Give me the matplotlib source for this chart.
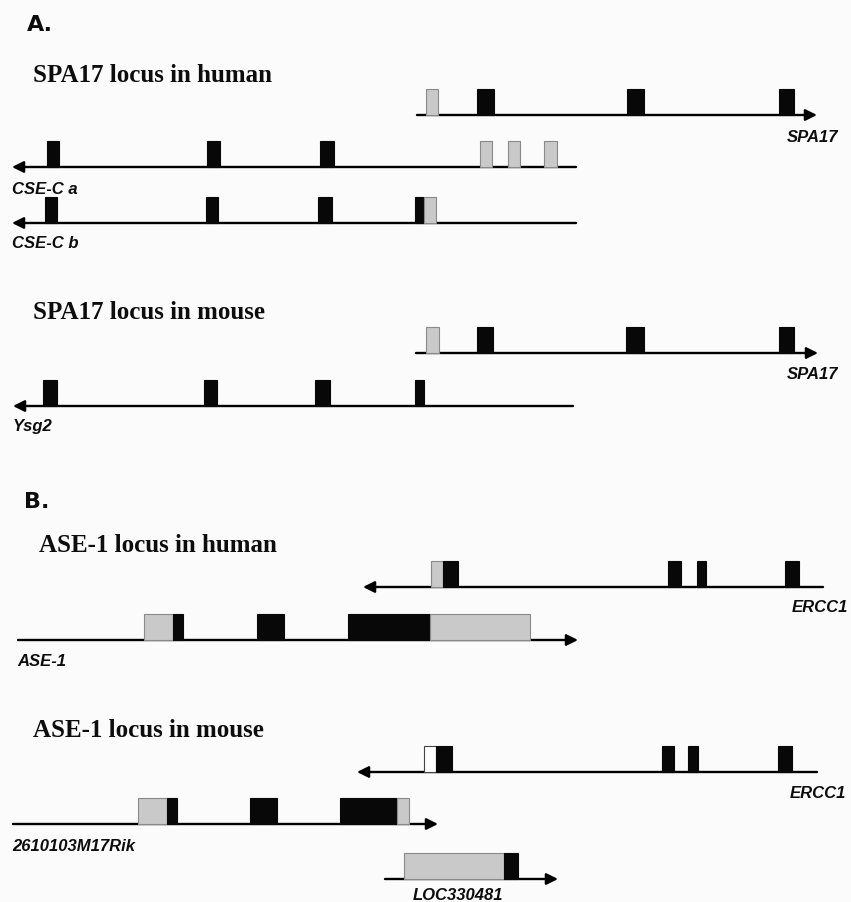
import matplotlib.pyplot as plt
from matplotlib.patches import Rectangle

# --------------------------
# Gene model data (positions along the locus, same scale for every track)
# each exon: (start, end, kind)  kind: 'cds' black, 'utr' grey, 'nc' white
# --------------------------
spa17_human_exons = [(426, 438, 'utr'), (477, 494, 'cds'), (627, 644, 'cds'), (779, 794, 'cds')]
csec_a_exons = [(47, 59, 'cds'), (207, 220, 'cds'), (320, 334, 'cds'),
                (480, 492, 'utr'), (508, 520, 'utr'), (544, 557, 'utr')]
csec_b_exons = [(45, 57, 'cds'), (206, 218, 'cds'), (318, 332, 'cds'),
                (415, 424, 'cds'), (424, 436, 'utr')]
spa17_mouse_exons = [(426, 439, 'utr'), (477, 493, 'cds'), (626, 644, 'cds'), (779, 794, 'cds')]
ysg2_exons = [(43, 57, 'cds'), (204, 217, 'cds'), (315, 330, 'cds'), (415, 424, 'cds')]

ercc1_human_exons = [(431, 443, 'utr'), (443, 458, 'cds'), (668, 681, 'cds'),
                     (697, 706, 'cds'), (785, 799, 'cds')]
ase1_exons = [(144, 173, 'utr'), (173, 183, 'cds'), (257, 284, 'cds'),
              (348, 430, 'cds'), (430, 530, 'utr')]
ercc1_mouse_exons = [(424, 436, 'nc'), (436, 452, 'cds'), (662, 674, 'cds'),
                     (688, 698, 'cds'), (778, 792, 'cds')]
rik_exons = [(138, 167, 'utr'), (167, 177, 'cds'), (250, 277, 'cds'),
             (340, 397, 'cds'), (397, 409, 'utr')]
loc_exons = [(404, 504, 'utr'), (504, 518, 'cds')]

# gene spans: (gene name, 5' end, 3' end) -> arrow points to the 3' end
spa17_human_span = ('SPA17', 417, 817)
csec_a_span = ('CSE-C a', 576, 12)
csec_b_span = ('CSE-C b', 576, 12)
spa17_mouse_span = ('SPA17', 416, 818)
ysg2_span = ('Ysg2', 573, 13)
ercc1_human_span = ('ERCC1', 823, 363)
ase1_span = ('ASE-1', 18, 578)
ercc1_mouse_span = ('ERCC1', 817, 357)
rik_span = ('2610103M17Rik', 13, 438)
loc_span = ('LOC330481', 385, 558)

FILL = {'cds': '#080808', 'utr': '#c9c9c9', 'nc': '#ffffff'}
EDGE = {'cds': '#080808', 'utr': '#8a8a8a', 'nc': '#444444'}


def draw_gene(ax, span, exons, y, label_xy, label_ha='left', h=26):
    name, x5, x3 = span
    ax.annotate('', xy=(x3, y), xytext=(x5, y),
                arrowprops=dict(arrowstyle='-|>', lw=1.7, color='k',
                                mutation_scale=17, shrinkA=0, shrinkB=0))
    for x0, x1, kind in exons:
        ax.add_patch(Rectangle((x0, y - h), x1 - x0, h, facecolor=FILL[kind],
                               edgecolor=EDGE[kind], lw=0.8, zorder=3))
    ax.text(label_xy[0], label_xy[1], name, ha=label_ha, va='center',
            fontsize=12, fontweight='bold', style='italic',
            family='Liberation Sans', color='#0d0d0d')


def main():
    fig = plt.figure(figsize=(8.51, 9.03), dpi=100, facecolor='#fbfbfb')
    ax = fig.add_axes([0, 0, 1, 1])
    ax.set_xlim(0, 851)
    ax.set_ylim(903, 0)
    ax.axis('off')

    title_kw = dict(fontsize=18, fontweight='bold', family='Liberation Serif',
                    va='baseline', ha='left', color='#0d0d0d')
    panel_kw = dict(fontsize=16, fontweight='bold', family='DejaVu Sans',
                    va='baseline', ha='left', color='#0d0d0d')

    # --------------------------
    # Panel A
    # --------------------------
    ax.text(27, 31, 'A.', **panel_kw)
    ax.text(33, 82, 'SPA17 locus in human', **title_kw)
    draw_gene(ax, spa17_human_span, spa17_human_exons, 116, (838, 137), 'right')
    draw_gene(ax, csec_a_span, csec_a_exons, 168, (12, 189))
    draw_gene(ax, csec_b_span, csec_b_exons, 224, (12, 244))

    ax.text(33, 319, 'SPA17 locus in mouse', **title_kw)
    draw_gene(ax, spa17_mouse_span, spa17_mouse_exons, 354, (838, 375), 'right')
    draw_gene(ax, ysg2_span, ysg2_exons, 407, (13, 427))

    # --------------------------
    # Panel B
    # --------------------------
    ax.text(24, 508, 'B.', **panel_kw)
    ax.text(39, 552, 'ASE-1 locus in human', **title_kw)
    draw_gene(ax, ercc1_human_span, ercc1_human_exons, 588, (848, 608), 'right')
    draw_gene(ax, ase1_span, ase1_exons, 641, (17, 662))

    ax.text(33, 737, 'ASE-1 locus in mouse', **title_kw)
    draw_gene(ax, ercc1_mouse_span, ercc1_mouse_exons, 773, (790, 794))
    draw_gene(ax, rik_span, rik_exons, 825, (12, 847))
    draw_gene(ax, loc_span, loc_exons, 880, (413, 896))

    plt.savefig('out.png', dpi=100, facecolor=fig.get_facecolor())


if __name__ == '__main__':
    main()
